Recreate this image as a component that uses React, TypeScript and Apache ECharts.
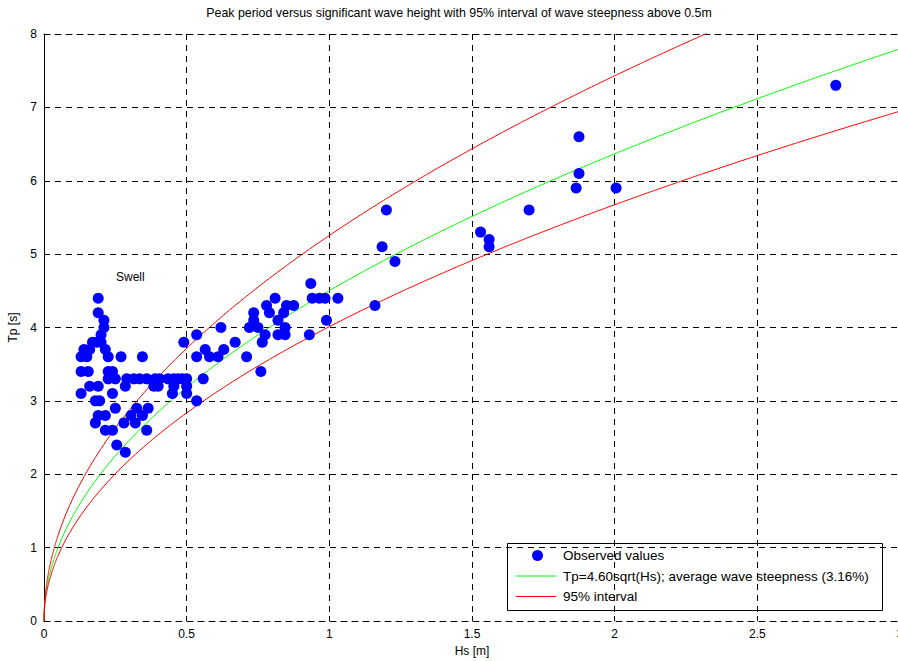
import React, { useEffect, useRef } from "react";
import * as echarts from "echarts";

// Observed sea states: significant wave height Hs [m] and peak period Tp [s]
const hsObserved = [
  0.19, 0.19, 0.21, 0.21, 0.2,
  0.17, 0.185, 0.2,
  0.14, 0.16, 0.215,
  0.13, 0.15, 0.225, 0.27, 0.345,
  0.13, 0.155, 0.225, 0.24,
  0.225, 0.25, 0.29, 0.315, 0.335, 0.36, 0.39, 0.405, 0.435, 0.455, 0.47, 0.485, 0.5, 0.558,
  0.16, 0.19, 0.285, 0.385, 0.4, 0.455, 0.5,
  0.13, 0.24, 0.45, 0.5,
  0.18, 0.195, 0.535,
  0.25, 0.325, 0.365,
  0.19, 0.215, 0.305, 0.345,
  0.18, 0.28, 0.32,
  0.215, 0.24, 0.36,
  0.255, 0.285,
  0.76,
  0.535, 0.58, 0.61, 0.71,
  0.565, 0.63,
  0.49, 0.67, 0.765,
  0.535, 0.775, 0.82, 0.845, 0.93,
  0.62, 0.72, 0.75, 0.845,
  0.735, 0.82, 0.99,
  0.735, 0.79, 0.84,
  0.78, 0.85, 0.875, 1.16,
  0.81, 0.94, 0.965, 0.985, 1.03,
  0.935,
  1.23, 1.185, 1.2,
  1.53, 1.56, 1.56, 1.7,
  1.865, 2.005, 1.875, 1.875,
  2.775,
];

const tpObserved = [
  4.4, 4.2, 4.1, 4.0, 3.9,
  3.8, 3.8, 3.8,
  3.7, 3.7, 3.7,
  3.6, 3.6, 3.6, 3.6, 3.6,
  3.4, 3.4, 3.4, 3.4,
  3.3, 3.3, 3.3, 3.3, 3.3, 3.3, 3.3, 3.3, 3.3, 3.3, 3.3, 3.3, 3.3, 3.3,
  3.2, 3.2, 3.2, 3.2, 3.2, 3.2, 3.2,
  3.1, 3.1, 3.1, 3.1,
  3.0, 3.0, 3.0,
  2.9, 2.9, 2.9,
  2.8, 2.8, 2.8, 2.8,
  2.7, 2.7, 2.7,
  2.6, 2.6, 2.6,
  2.4, 2.3,
  3.4,
  3.6, 3.6, 3.6, 3.6,
  3.7, 3.7,
  3.8, 3.8, 3.8,
  3.9, 3.9, 3.9, 3.9, 3.9,
  4.0, 4.0, 4.0, 4.0,
  4.1, 4.1, 4.1,
  4.2, 4.2, 4.2,
  4.3, 4.3, 4.3, 4.3,
  4.4, 4.4, 4.4, 4.4, 4.4,
  4.6,
  4.9, 5.1, 5.6,
  5.3, 5.2, 5.1, 5.6,
  5.9, 5.9, 6.1, 6.6,
  7.3,
];

// Wave steepness s = 2*pi*Hs / (g*Tp^2): average and 95% interval bounds
const steepnessMean = 0.0316;
const steepnessLow = 0.0232;
const steepnessHigh = 0.0398;
const gravity = 9.81;

const xTicks = [0, 0.5, 1, 1.5, 2, 2.5, 3];
const yTicks = [0, 1, 2, 3, 4, 5, 6, 7, 8];

const titleText =
  "Peak period versus significant wave height with 95% interval of wave steepness above 0.5m";
const legendNames = [
  "Observed values",
  "Tp=4.60sqrt(Hs); average wave steepness (3.16%)",
  "95% interval",
];

const FONT = "'Liberation Sans', Arial, Helvetica, sans-serif";
const BLUE = "#0000ff";
const GREEN = "#00ff00";
const RED = "#ff0000";

// Hs sampling used to trace the constant-steepness curves
function hsSamples(): number[] {
  const out: number[] = [];
  for (let i = 0; i <= 100; i++) out.push(i * 0.0005);
  for (let i = 6; i <= 300; i++) out.push(i * 0.01);
  return out;
}

function steepnessCurve(s: number): [number, number][] {
  return hsSamples().map((h) => [h, Math.sqrt((2 * Math.PI * h) / (gravity * s))]);
}

// Boxed legend in the lower right corner of the axes
function legendGraphic() {
  const left = 507;
  const top = 543;
  const rowY = [555.5, 576, 596.5];
  const textX = 563;
  const textStyle = { fontFamily: FONT, fontSize: 13.5, fill: "#000", verticalAlign: "middle" };
  return {
    type: "group",
    z: 100,
    children: [
      {
        type: "rect",
        shape: { x: left + 0.5, y: top + 0.5, width: 375, height: 67 },
        style: { fill: "#fff", stroke: "#000", lineWidth: 1 },
      },
      { type: "circle", shape: { cx: 537.5, cy: rowY[0], r: 5.5 }, style: { fill: BLUE } },
      {
        type: "line",
        shape: { x1: 516, y1: rowY[1], x2: 556, y2: rowY[1] },
        style: { stroke: GREEN, lineWidth: 1 },
      },
      {
        type: "line",
        shape: { x1: 516, y1: rowY[2], x2: 556, y2: rowY[2] },
        style: { stroke: RED, lineWidth: 1 },
      },
      ...legendNames.map((name, i) => ({
        type: "text",
        x: textX,
        y: rowY[i],
        style: { ...textStyle, text: name },
      })),
    ],
  };
}

export default function App() {
  const ref = useRef<HTMLDivElement>(null);

  useEffect(() => {
    if (!ref.current) return;
    const chart = echarts.init(ref.current, null, { renderer: "svg" });

    const dash = [6, 5];
    const gridLine = { show: true, lineStyle: { color: "#000", width: 1, type: dash as any } };

    chart.setOption({
      animation: false,
      backgroundColor: "#fff",
      grid: {
        left: 44,
        top: 34,
        width: 856,
        height: 587,
        containLabel: false,
        outerBoundsMode: "none",
      },
      xAxis: [
        {
          type: "value",
          min: xTicks[0],
          max: xTicks[xTicks.length - 1],
          interval: 0.5,
          name: "Hs [m]",
          nameLocation: "middle",
          nameGap: 23,
          nameTextStyle: { fontFamily: FONT, fontSize: 12, color: "#000" },
          axisLine: { show: true, onZero: false, lineStyle: { color: "#000", width: 1, type: dash as any } },
          axisTick: { show: true, inside: true, length: 5, lineStyle: { color: "#000" } },
          axisLabel: { fontFamily: FONT, fontSize: 12, color: "#000", margin: 7 },
          splitLine: gridLine,
        },
        {
          type: "value",
          position: "top",
          min: xTicks[0],
          max: xTicks[xTicks.length - 1],
          interval: 0.5,
          axisLine: { show: true, onZero: false, lineStyle: { color: "#000", width: 1, type: dash as any } },
          axisTick: { show: true, inside: true, length: 5, lineStyle: { color: "#000" } },
          axisLabel: { show: false },
          splitLine: { show: false },
        },
      ],
      yAxis: {
        type: "value",
        min: yTicks[0],
        max: yTicks[yTicks.length - 1],
        interval: 1,
        name: "Tp [s]",
        nameLocation: "middle",
        nameGap: 24,
        nameRotate: 90,
        nameTextStyle: { fontFamily: FONT, fontSize: 12, color: "#000" },
        axisLine: { show: true, onZero: false, lineStyle: { color: "#000", width: 1 } },
        axisTick: { show: true, inside: true, length: 5, lineStyle: { color: "#000" } },
        axisLabel: { fontFamily: FONT, fontSize: 12, color: "#000", margin: 7 },
        splitLine: gridLine,
      },
      series: [
        {
          name: legendNames[0],
          type: "scatter",
          data: hsObserved.map((h, i) => [h, tpObserved[i]]),
          symbol: "circle",
          symbolSize: 11,
          itemStyle: { color: BLUE, opacity: 1 },
          z: 5,
        },
        {
          name: legendNames[1],
          type: "line",
          data: steepnessCurve(steepnessMean),
          showSymbol: false,
          symbol: "none",
          lineStyle: { color: GREEN, width: 1 },
          z: 4,
        },
        {
          name: legendNames[2],
          type: "line",
          data: steepnessCurve(steepnessLow),
          showSymbol: false,
          symbol: "none",
          lineStyle: { color: RED, width: 1 },
          z: 4,
        },
        {
          name: legendNames[2],
          type: "line",
          data: steepnessCurve(steepnessHigh),
          showSymbol: false,
          symbol: "none",
          lineStyle: { color: RED, width: 1 },
          z: 4,
        },
      ],
      graphic: [
        {
          type: "text",
          x: 459,
          y: 13,
          style: {
            text: titleText,
            fontFamily: FONT,
            fontSize: 12.4,
            fill: "#000",
            textAlign: "center",
            verticalAlign: "middle",
          },
        },
        {
          type: "text",
          x: 116,
          y: 277,
          style: { text: "Swell", fontFamily: FONT, fontSize: 12, fill: "#000", verticalAlign: "middle" },
        },
        legendGraphic(),
      ],
    });

    return () => chart.dispose();
  }, []);

  return (
    <div
      ref={ref}
      style={{ position: "fixed", left: 0, top: 0, width: 898, height: 661, overflow: "hidden" }}
    />
  );
}
